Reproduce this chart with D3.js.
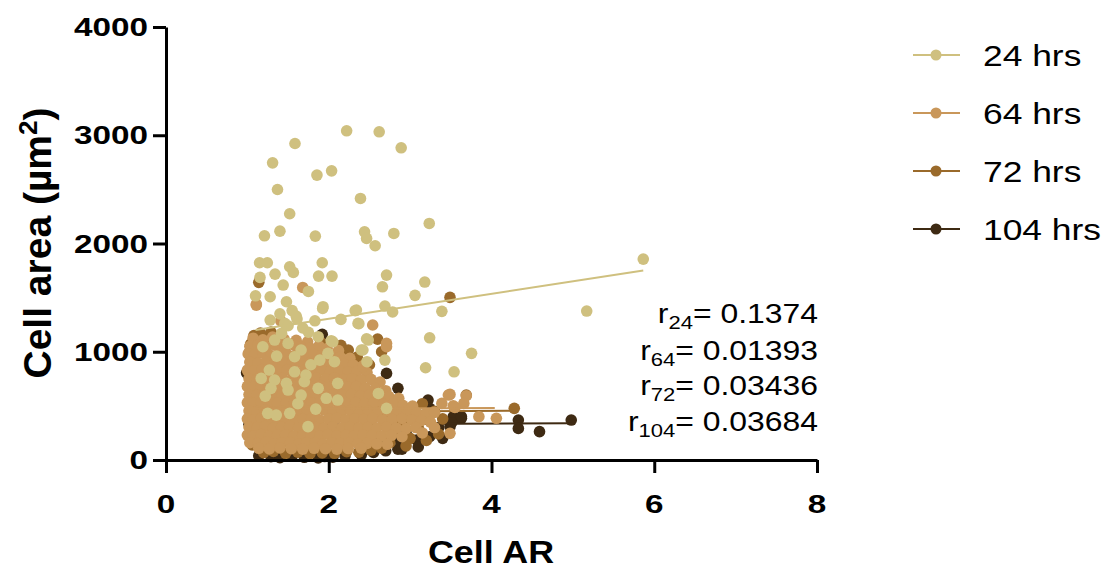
<!DOCTYPE html>
<html><head><meta charset="utf-8">
<script src="https://cdn.jsdelivr.net/npm/d3@7"></script>
<style>
body{margin:0;background:#fff}
svg{display:block}
text{font-family:"Liberation Sans",Arial,sans-serif;fill:#000}
</style>
</head><body>
<svg id="chart" width="1110" height="572"></svg>
<script>
// Series labels, colours and Pearson r for each time point
const seriesNames = ["24 hrs", "64 hrs", "72 hrs", "104 hrs"];
const seriesColors = ["#cfc07f", "#c9975a", "#9a6a2b", "#3e2a13"];
const rSubs = ["24", "64", "72", "104"];
const rValues = ["0.1374", "0.01393", "0.03436", "0.03684"];
const xTicks = [0, 2, 4, 6, 8];
const yTicks = [0, 1000, 2000, 3000, 4000];

// Cell aspect ratio vs cell area (µm²), one [AR, area] pair per cell
const hrs24 = [
  [2.22,3041],[2.62,3032],[1.585,2924],[2.89,2884],[1.31,2745],[1.855,2632],[2.035,2671],[1.37,2499],
  [2.39,2416],[1.52,2275],[3.235,2185],[1.21,2071],[1.40,2114],[1.835,2068],[2.44,2108],[2.465,2047],
  [2.57,1979],[2.80,2093],[1.15,1822],[1.245,1822],[1.92,1822],[1.52,1785],[1.565,1733],[1.34,1717],
  [1.875,1699],[2.04,1699],[2.71,1708],[1.155,1687],[1.44,1616],[2.66,1600],[3.18,1644],[1.75,1557],
  [1.10,1517],[1.28,1508],[3.06,1521],[1.48,1462],[1.925,1400],[2.325,1379],[2.69,1422],[2.785,1367],
  [3.39,1373],[1.28,1293],[1.83,1286],[2.15,1299],[2.37,1259],[1.61,1302],[3.24,1129],[3.755,985],
  [2.03,1102],[2.465,1120],[2.40,1016],[5.865,1856],[5.17,1376],[3.19,852],[3.54,815],[2.34,1385],
  [2.36,1262],[2.485,1108],[2.42,1016],[2.69,923],[2.47,908],[2.61,615],[2.71,477],
  [1.93,1416],[1.46,1262],[1.19,1046],[1.335,1108],[1.50,1077],[1.66,1016],[1.87,1139],[1.89,923],
  [1.58,954],[1.27,831],[1.17,754],[1.335,739],[1.48,708],[1.58,815],[1.72,785],[1.70,723],
  [1.87,662],[1.50,646],[1.66,600],[1.29,662],[2.11,708],[1.97,570],[2.11,554],[1.25,431],
  [1.355,415],[1.52,431],[1.745,308],[1.99,985],[2.05,1092],[2.07,908],[1.42,1170],
  [1.55,1380],[1.60,1330],[1.50,1240],[1.68,1220],[1.40,1350],[1.75,1180],
  [1.36,960],[1.78,880],[1.22,590],[1.62,520],[1.84,470]
];

const hrs64 = [
  [1.07,1125],[1.19,1110],[1.31,1135],[1.45,1118],[1.60,1105],[1.74,1092],
  [1.03,1050],[1.13,1062],[1.24,1045],[1.35,1058],[1.46,1040],[1.56,1066],[1.66,1048],[1.77,1035],[1.88,1052],[1.98,1030],[2.12,1010],
  [1.01,980],[1.09,972],[1.19,988],[1.29,965],[1.40,978],[1.50,970],[1.61,984],[1.71,962],[1.82,975],[1.92,968],[2.03,958],[2.14,950],[2.26,940],
  [1.03,905],[1.13,895],[1.23,910],[1.34,898],[1.44,902],[1.55,890],[1.65,908],[1.76,896],[1.86,904],[1.97,892],[2.08,900],[2.19,885],[2.30,878],[2.42,870],
  [1.00,830],[1.08,822],[1.18,835],[1.28,818],[1.39,826],[1.49,832],[1.60,815],[1.70,828],[1.81,820],[1.91,834],[2.02,818],[2.13,826],[2.24,812],[2.35,820],[2.47,808],
  [1.02,752],[1.12,745],[1.22,758],[1.33,748],[1.43,755],[1.54,742],[1.64,760],[1.75,746],[1.85,754],[1.96,748],[2.07,757],[2.18,744],[2.29,750],[2.40,738],[2.52,745],[2.63,720],
  [1.00,680],[1.07,672],[1.17,685],[1.27,668],[1.38,678],[1.48,674],[1.59,682],[1.69,666],[1.80,676],[1.90,688],[2.01,670],[2.12,680],[2.23,672],[2.34,678],[2.45,665],[2.57,660],[2.70,640],
  [1.02,605],[1.12,598],[1.22,610],[1.32,595],[1.43,603],[1.53,612],[1.64,596],[1.74,606],[1.85,600],[1.95,594],[2.06,608],[2.17,598],[2.28,604],[2.39,592],[2.50,600],[2.62,590],[2.74,585],[2.86,570],
  [1.00,530],[1.07,522],[1.17,535],[1.27,518],[1.37,528],[1.48,524],[1.58,532],[1.69,516],[1.79,527],[1.90,536],[2.00,520],[2.11,528],[2.22,522],[2.33,530],[2.44,518],[2.55,526],[2.67,515],[2.79,520],[2.91,505],[3.03,498],
  [1.02,455],[1.12,448],[1.22,460],[1.32,444],[1.42,452],[1.53,458],[1.63,446],[1.74,454],[1.84,448],[1.95,460],[2.05,442],[2.16,452],[2.27,456],[2.38,446],[2.49,450],[2.60,444],[2.72,452],[2.84,440],[2.96,448],[3.08,436],[3.20,430],
  [1.00,380],[1.07,372],[1.17,385],[1.27,370],[1.37,378],[1.47,384],[1.58,368],[1.68,376],[1.79,382],[1.89,370],[2.00,378],[2.10,386],[2.21,372],[2.32,380],[2.43,374],[2.54,382],[2.66,368],[2.78,376],[2.90,384],[3.02,370],[3.14,365],
  [1.02,305],[1.12,298],[1.22,310],[1.32,295],[1.42,302],[1.52,308],[1.63,296],[1.73,304],[1.84,300],[1.94,292],[2.05,306],[2.16,298],[2.26,303],[2.37,296],[2.48,300],[2.59,294],[2.71,302],[2.83,296],[2.95,290],[3.07,300],
  [1.00,230],[1.07,222],[1.17,235],[1.27,220],[1.37,228],[1.47,232],[1.57,218],[1.68,226],[1.78,230],[1.89,222],[1.99,236],[2.10,224],[2.21,228],[2.31,220],[2.42,232],[2.53,226],[2.65,220],[2.77,228],[2.90,215],
  [1.03,160],[1.13,152],[1.23,165],[1.33,150],[1.43,158],[1.53,162],[1.63,150],[1.73,158],[1.83,155],[1.93,148],[2.04,160],[2.14,152],[2.25,156],[2.36,150],[2.47,154],[2.59,148],[2.72,145],
  [1.14,108],[1.27,102],[1.40,112],[1.54,104],[1.68,100],[1.82,108],[1.96,104],[2.10,100],[2.24,106],[2.40,110],
  [1.68,1594],[1.11,1440],[2.54,1247],[1.41,1286],[2.71,1046],[2.71,1077],[2.42,862],[1.11,1431],
  [3.30,440],[3.39,523],[3.53,501],[3.49,606],[3.69,594],[3.66,523],[3.845,400],[4.06,385],
  [3.47,600],[3.55,486],[3.49,246],[3.25,350],[3.15,250],[3.30,300]
];

const hrs72 = [
  [1.08,1150],[1.16,1172],[1.22,1133],[1.34,1139],[1.29,1182],[1.04,1070],[1.02,990],
  [1.01,815],[1.04,700],[1.05,560],[1.04,420],[1.05,250],[1.06,140],
  [1.14,1641],[2.60,1117],[2.65,1000],[2.32,815],[2.24,1016],[3.49,1502],[4.28,477],[3.69,600],
  [1.90,1090],[2.15,1060],[2.35,950],[2.50,880],
  [1.20,68],[1.32,80],[1.47,62],[1.62,72],[1.77,58],[1.92,66],[2.07,62],[2.22,76],[2.37,72],[2.52,90],[2.65,110],
  [2.55,300],[2.62,480],[2.72,420],[2.80,250],[2.90,350],[3.00,200],[2.75,160],[3.10,300],[3.30,450],
  [3.40,380],[2.30,180],[2.45,150],[2.68,560],[2.85,470],[3.00,420],[3.15,520],[2.95,130],[3.20,180],[3.35,240]
];

const hrs104 = [
  [1.14,40],[1.29,30],[1.40,22],[1.55,35],[1.70,25],[1.87,20],[1.95,32],[2.05,26],[2.20,40],[2.40,48],
  [2.55,70],[2.70,85],[2.85,100],[0.99,805],[1.02,330],
  [1.92,1161],[2.71,800],[2.85,662],[3.22,554],[3.61,385],[3.49,308],[3.24,215],[2.51,123],[2.67,123],
  [2.87,185],[3.08,185],[3.63,385],[4.33,369],[4.33,292],[4.59,262],[4.98,369],[3.53,400],[3.63,400],
  [3.24,477],[3.51,344],[2.60,200],[2.75,300],[2.95,250],[3.10,120],[3.35,300],[3.00,420],[2.90,100],
  [3.15,380],[3.40,200]
];

// Linear fit end points for each time point
const fit24 = [[1.10,1200],[5.865,1750]];
const fit64 = [[1.00,470],[4.04,480]];
const fit72 = [[1.00,440],[4.29,455]];
const fit104 = [[1.00,325],[4.98,339]];

const seriesData = [hrs24, hrs64, hrs72, hrs104];
const seriesFits = [fit24, fit64, fit72, fit104];

const svg = d3.select("#chart");
const x = d3.scaleLinear().domain([0, 8]).range([166, 817]);
const y = d3.scaleLinear().domain([0, 4000]).range([460, 27]);

const dotR = 5.8;
const plot = svg.append("g");

// Draw later time points first so earlier ones sit on top
for (let i = seriesData.length - 1; i >= 0; i--) {
  const layer = plot.append("g");
  layer.selectAll("circle").data(seriesData[i]).join("circle")
    .attr("cx", d => x(d[0])).attr("cy", d => y(d[1])).attr("r", dotR)
    .attr("fill", seriesColors[i]);
  layer.append("path")
    .attr("d", d3.line().x(d => x(d[0])).y(d => y(d[1]))(seriesFits[i]))
    .attr("stroke", seriesColors[i]).attr("stroke-width", 2).attr("fill", "none");
}

// Axes
const tickLen = 13;
const axisStyle = g => {
  g.selectAll("path.domain").attr("stroke", "#000").attr("stroke-width", 3);
  g.selectAll(".tick line").attr("stroke", "#000").attr("stroke-width", 3);
  g.selectAll(".tick text").remove();
};
svg.append("g").attr("transform", "translate(166,0)")
  .call(d3.axisLeft(y).tickValues(yTicks).tickSize(tickLen).tickSizeOuter(0))
  .call(axisStyle);
svg.append("g").attr("transform", "translate(0,460)")
  .call(d3.axisBottom(x).tickValues(xTicks).tickSize(tickLen).tickSizeOuter(0))
  .call(axisStyle);

const tickFont = 26, tickSx = 1.28;
svg.append("g").selectAll("text").data(yTicks).join("text")
  .attr("transform", d => `translate(148,${y(d) + 9}) scale(${tickSx},1)`)
  .attr("text-anchor", "end").attr("font-weight", "bold").attr("font-size", tickFont)
  .text(d => d);
svg.append("g").selectAll("text").data(xTicks).join("text")
  .attr("transform", d => `translate(${x(d)},513) scale(${tickSx},1)`)
  .attr("text-anchor", "middle").attr("font-weight", "bold").attr("font-size", tickFont)
  .text(d => d);

// Axis titles
svg.append("text")
  .attr("transform", "translate(491,563) scale(1.12,1)")
  .attr("text-anchor", "middle").attr("font-weight", "bold").attr("font-size", 32)
  .text("Cell AR");
const yTitle = svg.append("text")
  .attr("transform", "translate(51,243) rotate(-90)")
  .attr("text-anchor", "middle").attr("font-weight", "bold").attr("font-size", 39);
yTitle.append("tspan").text("Cell area (µm");
yTitle.append("tspan").attr("font-size", 26).attr("dy", -14).text("2");
yTitle.append("tspan").attr("dy", 14).text(")");

// Legend
const legendY = [55, 113, 171, 229];
const legend = svg.append("g");
seriesNames.forEach((name, i) => {
  const g = legend.append("g").attr("transform", `translate(0,${legendY[i]})`);
  g.append("line").attr("x1", 913).attr("x2", 960).attr("y1", 0).attr("y2", 0)
    .attr("stroke", seriesColors[i]).attr("stroke-width", 2);
  g.append("circle").attr("cx", 936).attr("cy", 0).attr("r", 5.5).attr("fill", seriesColors[i]);
  g.append("text").attr("transform", "translate(983,11) scale(1.18,1)")
    .attr("font-size", 30).text(name);
});

// Correlation coefficients
const corrY = [323, 360, 395, 431];
rValues.forEach((v, i) => {
  const t = svg.append("text")
    .attr("transform", `translate(818,${corrY[i]}) scale(1.16,1)`)
    .attr("text-anchor", "end").attr("font-size", 27.5);
  t.append("tspan").text("r");
  t.append("tspan").attr("font-size", 19).attr("dy", 6).text(rSubs[i]);
  t.append("tspan").attr("dy", -6).text("= " + v);
});
</script>
</body></html>
